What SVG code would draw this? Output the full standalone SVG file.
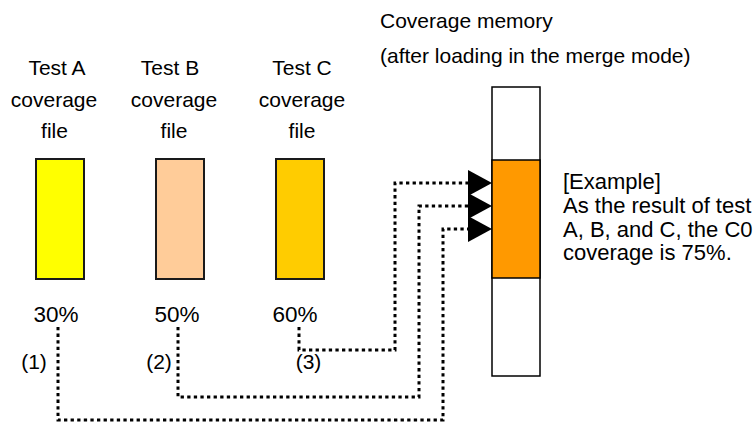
<svg xmlns="http://www.w3.org/2000/svg" width="755" height="425" viewBox="0 0 755 425">
  <style>
    text { font-family: "Liberation Sans", Arial, sans-serif; font-size: 21px; fill: #000; }
    .mid { text-anchor: middle; }
    .pct { font-size: 22.5px; }
    .note { font-size: 22px; }
    .file { stroke: #1a1a1a; stroke-width: 2; }
    .mem { stroke: #000; stroke-width: 1.5; }
    .conn { fill: none; stroke: #000; stroke-width: 3; stroke-dasharray: 3.3 3.3; }
  </style>
  <defs>
    <marker id="head" markerUnits="userSpaceOnUse" viewBox="0 0 24 26" markerWidth="24" markerHeight="26" refX="0" refY="13" orient="auto">
      <path d="M0,0 L24,13 L0,26 z" fill="#000"/>
    </marker>
  </defs>
  <rect width="755" height="425" fill="#fff"/>

  <g id="test-a">
    <text class="mid" x="57" y="75">Test A</text>
    <text class="mid" x="54" y="106.5">coverage</text>
    <text class="mid" x="54.5" y="138">file</text>
    <rect class="file" x="36" y="159" width="48" height="120" fill="#FFFF00"/>
    <text class="mid pct" x="56" y="322">30%</text>
    <text class="mid" x="34" y="369">(1)</text>
  </g>

  <g id="test-b">
    <text class="mid" x="170" y="75">Test B</text>
    <text class="mid" x="174" y="106.5">coverage</text>
    <text class="mid" x="174" y="138">file</text>
    <rect class="file" x="156" y="159" width="48" height="120" fill="#FFCC99"/>
    <text class="mid pct" x="177" y="322">50%</text>
    <text class="mid" x="159" y="369">(2)</text>
  </g>

  <g id="test-c">
    <text class="mid" x="302" y="75">Test C</text>
    <text class="mid" x="302" y="106.5">coverage</text>
    <text class="mid" x="302" y="138">file</text>
    <rect class="file" x="276" y="159" width="48" height="120" fill="#FFCC00"/>
    <text class="mid pct" x="295" y="322">60%</text>
    <text class="mid" x="308.5" y="369">(3)</text>
  </g>

  <g id="memory">
    <text x="380" y="28">Coverage memory</text>
    <text x="380" y="63">(after loading in the merge mode)</text>
    <rect class="mem" x="492" y="87" width="48" height="289" fill="#fff"/>
    <rect class="mem" x="492" y="160" width="48" height="118" fill="#FF9900"/>
  </g>

  <g id="example">
    <text class="note" x="563" y="189">[Example]</text>
    <text class="note" x="563" y="213">As the result of test</text>
    <text class="note" x="563" y="237">A, B, and C, the C0</text>
    <text class="note" x="563" y="260">coverage is 75%.</text>
  </g>

  <g id="connectors">
    <path class="conn" d="M299,327 V350 H395 V183 H468" marker-end="url(#head)"/>
    <path class="conn" d="M178,327 V397 H419 V206 H468" marker-end="url(#head)"/>
    <path class="conn" d="M58,327 V420 H443 V229 H468" marker-end="url(#head)"/>
  </g>
</svg>
